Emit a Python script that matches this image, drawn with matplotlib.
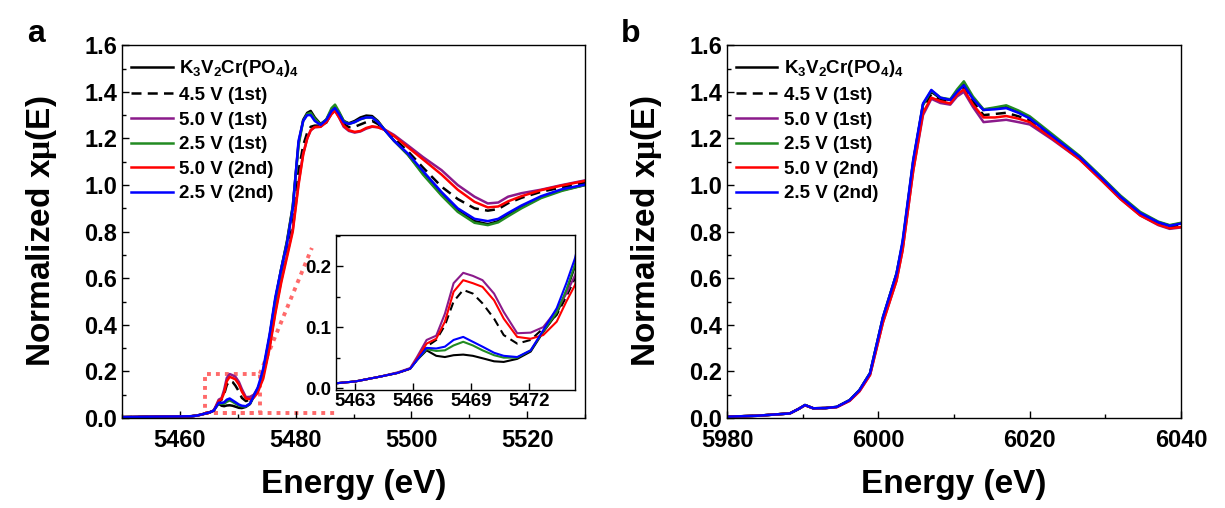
import matplotlib
matplotlib.use("Agg")
import matplotlib.pyplot as plt
from matplotlib.ticker import MultipleLocator

plt.rcParams['font.family'] = 'Liberation Sans'
plt.rcParams['font.weight'] = 'bold'
plt.rcParams['axes.labelweight'] = 'bold'
plt.rcParams['mathtext.fontset'] = 'custom'
plt.rcParams['mathtext.rm'] = 'Liberation Serif'
plt.rcParams['mathtext.default'] = 'regular'

labels = ['K$_3$V$_2$Cr(PO$_4$)$_4$', '4.5 V (1st)', '5.0 V (1st)',
          '2.5 V (1st)', '5.0 V (2nd)', '2.5 V (2nd)']
colors = ['black', 'black', '#8b1a8b', '#228b22', '#ff0000', '#0000ff']
styles = ['-', '--', '-', '-', '-', '-']

# ---- panel a : V K-edge ----
E_a = [5450, 5455, 5460,
       5462.0, 5463.0, 5464.3, 5465.2, 5465.85, 5466.2, 5466.7, 5467.2, 5467.65,
       5468.1, 5468.6, 5469.1, 5469.6, 5470.2, 5470.7, 5471.4, 5472.1, 5472.75,
       5473.45, 5473.95, 5474.4,
       5475.5, 5476.5, 5477.5, 5478.5, 5479.5, 5480.5, 5481.3, 5482.0, 5482.6,
       5483.3, 5484.3,
       5485.3, 5486.2, 5486.8, 5487.5, 5488.3, 5489.2, 5490.2, 5491.2, 5492.2,
       5493.2, 5494.2, 5495.4, 5497.0, 5499.4, 5502.0, 5505.2, 5508.0, 5510.9,
       5513.2, 5515.0, 5516.7, 5519.0, 5522.4, 5526.0, 5530.0]

a_pristine = [0.004, 0.006, 0.007,
              0.008, 0.011, 0.019, 0.025, 0.032, 0.046, 0.062, 0.053, 0.051, 0.054, 0.055,
              0.053, 0.049, 0.044, 0.043, 0.048, 0.060, 0.092, 0.122, 0.158, 0.200,
              0.35, 0.51, 0.64, 0.76, 0.91, 1.18, 1.28, 1.31, 1.318, 1.29, 1.262,
              1.28, 1.32, 1.335, 1.31, 1.275, 1.265, 1.275, 1.29, 1.298, 1.296, 1.275,
              1.236, 1.19, 1.13, 1.05, 0.96, 0.89, 0.845, 0.832, 0.845, 0.872, 0.905,
              0.948, 0.978, 1.0]
a_45v_1st = [0.004, 0.006, 0.007,
             0.008, 0.011, 0.019, 0.025, 0.032, 0.047, 0.068, 0.079, 0.103, 0.142, 0.161,
             0.155, 0.139, 0.114, 0.087, 0.073, 0.079, 0.098, 0.120, 0.150, 0.180,
             0.31, 0.47, 0.60, 0.71, 0.83, 1.06, 1.17, 1.225, 1.25, 1.255, 1.255,
             1.268, 1.31, 1.325, 1.298, 1.262, 1.248, 1.25, 1.26, 1.27, 1.275, 1.262,
             1.236, 1.20, 1.145, 1.075, 0.993, 0.94, 0.90, 0.89, 0.897, 0.922, 0.945,
             0.971, 0.99, 1.01]
a_50v_1st = [0.004, 0.006, 0.007,
             0.008, 0.011, 0.019, 0.026, 0.033, 0.051, 0.079, 0.086, 0.122, 0.172, 0.189,
             0.184, 0.177, 0.155, 0.125, 0.090, 0.091, 0.100, 0.128, 0.155, 0.185,
             0.31, 0.46, 0.59, 0.70, 0.81, 1.01, 1.135, 1.20, 1.235, 1.248, 1.25,
             1.27, 1.305, 1.32, 1.29, 1.25, 1.232, 1.225, 1.23, 1.242, 1.25, 1.248,
             1.238, 1.215, 1.17, 1.12, 1.064, 1.0, 0.95, 0.921, 0.925, 0.95, 0.965,
             0.98, 1.0, 1.02]
a_25v_1st = [0.004, 0.006, 0.007,
             0.008, 0.011, 0.019, 0.025, 0.032, 0.046, 0.064, 0.061, 0.062, 0.070, 0.076,
             0.070, 0.062, 0.054, 0.050, 0.050, 0.062, 0.093, 0.124, 0.161, 0.203,
             0.35, 0.51, 0.64, 0.755, 0.905, 1.17, 1.275, 1.305, 1.31, 1.285, 1.26,
             1.282, 1.33, 1.345, 1.315, 1.275, 1.262, 1.27, 1.282, 1.29, 1.29, 1.272,
             1.236, 1.19, 1.13, 1.045, 0.955, 0.885, 0.838, 0.828, 0.84, 0.866, 0.9,
             0.944, 0.975, 1.0]
a_50v_2nd = [0.004, 0.006, 0.007,
             0.008, 0.011, 0.019, 0.025, 0.032, 0.048, 0.073, 0.081, 0.109, 0.158, 0.177,
             0.172, 0.166, 0.144, 0.114, 0.084, 0.081, 0.087, 0.109, 0.142, 0.169,
             0.30, 0.45, 0.58, 0.69, 0.80, 1.00, 1.13, 1.20, 1.235, 1.249, 1.25,
             1.27, 1.305, 1.318, 1.29, 1.255, 1.235, 1.228, 1.232, 1.245, 1.252, 1.248,
             1.236, 1.21, 1.162, 1.11, 1.045, 0.98, 0.928, 0.904, 0.908, 0.93, 0.952,
             0.978, 0.998, 1.018]
a_25v_2nd = [0.004, 0.006, 0.007,
             0.008, 0.011, 0.019, 0.025, 0.032, 0.046, 0.066, 0.065, 0.068, 0.079, 0.084,
             0.076, 0.068, 0.058, 0.053, 0.051, 0.062, 0.095, 0.131, 0.172, 0.213,
             0.36, 0.52, 0.64, 0.75, 0.90, 1.19, 1.275, 1.30, 1.30, 1.275, 1.258,
             1.28, 1.318, 1.33, 1.305, 1.27, 1.262, 1.27, 1.283, 1.29, 1.29, 1.27,
             1.236, 1.19, 1.135, 1.06, 0.97, 0.9, 0.855, 0.845, 0.855, 0.88, 0.912,
             0.952, 0.982, 1.002]

# ---- panel b : Cr K-edge ----
E_b = [5980, 5984, 5988.3, 5989.5, 5990.3, 5991.4, 5993, 5994.5, 5996.2, 5997.5,
       5998.9, 6000.6, 6002.4, 6003.2, 6004.6, 6005.9, 6007.0, 6008.2, 6009.5,
       6010.4, 6011.3, 6012.5, 6013.9, 6015.4, 6016.9, 6018.5, 6020.0, 6023.0,
       6026.6, 6029.5, 6032.0, 6034.6, 6037.0, 6038.5, 6040.0]

b_pristine = [0.006, 0.01, 0.02, 0.04, 0.056, 0.042, 0.043, 0.048, 0.077, 0.12,
              0.193, 0.43, 0.62, 0.75, 1.10, 1.345, 1.40, 1.372, 1.365, 1.40, 1.432,
              1.372, 1.322, 1.33, 1.338, 1.315, 1.288, 1.212, 1.12, 1.03, 0.95, 0.88,
              0.84, 0.826, 0.836]
b_45v_1st = [0.006, 0.01, 0.02, 0.04, 0.056, 0.042, 0.043, 0.048, 0.076, 0.118,
             0.19, 0.42, 0.605, 0.735, 1.08, 1.33, 1.39, 1.365, 1.356, 1.395, 1.42,
             1.358, 1.30, 1.305, 1.31, 1.295, 1.278, 1.205, 1.115, 1.025, 0.945, 0.875,
             0.835, 0.82, 0.83]
b_50v_1st = [0.006, 0.01, 0.02, 0.04, 0.055, 0.042, 0.043, 0.047, 0.074, 0.115,
             0.185, 0.41, 0.59, 0.72, 1.06, 1.30, 1.37, 1.352, 1.345, 1.38, 1.40,
             1.335, 1.27, 1.275, 1.28, 1.27, 1.26, 1.195, 1.11, 1.02, 0.94, 0.87,
             0.828, 0.812, 0.818]
b_25v_1st = [0.006, 0.01, 0.02, 0.04, 0.056, 0.042, 0.043, 0.048, 0.077, 0.12,
             0.193, 0.432, 0.62, 0.75, 1.10, 1.345, 1.405, 1.375, 1.368, 1.41, 1.445,
             1.38, 1.325, 1.333, 1.342, 1.32, 1.295, 1.218, 1.125, 1.035, 0.955, 0.885,
             0.843, 0.828, 0.838]
b_50v_2nd = [0.006, 0.01, 0.02, 0.04, 0.055, 0.042, 0.043, 0.047, 0.074, 0.115,
             0.185, 0.41, 0.59, 0.72, 1.06, 1.31, 1.375, 1.36, 1.35, 1.39, 1.41,
             1.345, 1.29, 1.29, 1.296, 1.285, 1.27, 1.20, 1.11, 1.02, 0.94, 0.87,
             0.83, 0.815, 0.82]
b_25v_2nd = [0.006, 0.01, 0.02, 0.04, 0.056, 0.042, 0.043, 0.048, 0.077, 0.12,
             0.193, 0.433, 0.62, 0.76, 1.107, 1.35, 1.408, 1.375, 1.365, 1.40, 1.428,
             1.37, 1.322, 1.325, 1.33, 1.31, 1.286, 1.21, 1.12, 1.03, 0.95, 0.88,
             0.84, 0.825, 0.835]

series_a = [a_pristine, a_45v_1st, a_50v_1st, a_25v_1st, a_50v_2nd, a_25v_2nd]
series_b = [b_pristine, b_45v_1st, b_50v_1st, b_25v_1st, b_50v_2nd, b_25v_2nd]

# zoom window marked on panel a (x0, x1, y0, y1) and where the guide lines end
zoom_box = (5464.3, 5473.8, 0.02, 0.19)
guide_top_end = (5482.8, 0.73)
guide_bottom_end = 5487.4


def style_axes(ax, fs):
    ax.tick_params(which='both', direction='in', top=False, right=False,
                   labelsize=fs, width=1.0)
    ax.tick_params(which='major', length=5)
    ax.tick_params(which='minor', length=3)
    for s in ax.spines.values():
        s.set_linewidth(1.0)


fig = plt.figure(figsize=(12.25, 5.08), dpi=100)
ax_a = fig.add_axes([0.0996, 0.177, 0.378, 0.734])
ax_b = fig.add_axes([0.5935, 0.177, 0.3706, 0.734])

for ax, E, series in [(ax_a, E_a, series_a), (ax_b, E_b, series_b)]:
    for y, lab, c, ls in zip(series, labels, colors, styles):
        ax.plot(E, y, color=c, ls=ls, lw=1.8, label=lab,
                dashes=(4, 2.5) if ls == '--' else (None, None))
    ax.set_ylim(0, 1.6)
    ax.yaxis.set_major_locator(MultipleLocator(0.2))
    ax.yaxis.set_minor_locator(MultipleLocator(0.1))
    ax.xaxis.set_major_locator(MultipleLocator(20))
    ax.xaxis.set_minor_locator(MultipleLocator(10))
    style_axes(ax, 17)
    ax.tick_params(axis='x', pad=8)
    ax.set_xlabel('Energy (eV)', fontsize=24, labelpad=12)
    ax.set_ylabel(r'Normalized x$\mathrm{\mu}$(E)', fontsize=24, labelpad=18)
    ax.legend(loc='upper left', bbox_to_anchor=(0.012, 0.975), frameon=False,
              fontsize=13.5, handlelength=2.2, handletextpad=0.35,
              labelspacing=0.4, borderaxespad=0.0, borderpad=0.2)

ax_a.set_xlim(5450, 5530)
ax_b.set_xlim(5980, 6040)

# zoom guide on panel a
x0, x1, y0, y1 = zoom_box
guide = dict(color='#ff6a6a', ls=(0, (1, 1.3)), lw=2.8, zorder=0.5)
ax_a.plot([x0, x1, x1, x0, x0], [y0, y0, y1, y1, y0], **guide)
ax_a.plot([x1, guide_top_end[0]], [y1, guide_top_end[1]], **guide)
ax_a.plot([x0, guide_bottom_end], [y0, y0], **guide)

# inset
ax_in = fig.add_axes([0.2743, 0.2323, 0.1951, 0.3051])
for y, c, ls in zip(series_a, colors, styles):
    ax_in.plot(E_a, y, color=c, ls=ls, lw=1.5,
               dashes=(4, 2.5) if ls == '--' else (None, None))
ax_in.set_xlim(5462.0, 5474.4)
ax_in.set_ylim(-0.003, 0.251)
ax_in.xaxis.set_major_locator(MultipleLocator(3))
ax_in.yaxis.set_major_locator(MultipleLocator(0.1))
ax_in.yaxis.set_minor_locator(MultipleLocator(0.05))
style_axes(ax_in, 13.5)
ax_in.tick_params(axis='x', pad=2)

fig.text(0.022, 0.918, 'a', fontsize=23, fontweight='bold')
fig.text(0.507, 0.918, 'b', fontsize=23, fontweight='bold')

fig.savefig('out.png', dpi=100)
